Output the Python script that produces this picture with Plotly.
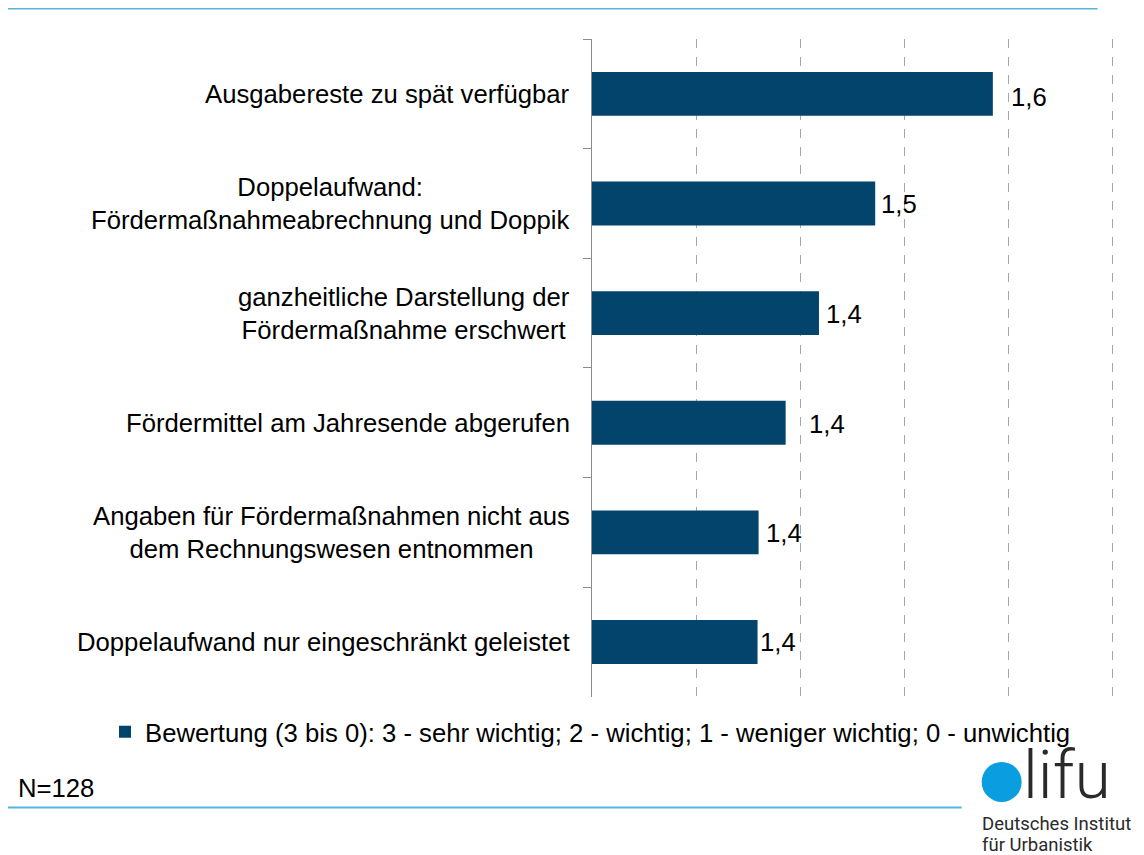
import plotly.graph_objects as go

# ---------------- data ----------------
categories = [
    "Ausgabereste zu spät verfügbar",
    "Doppelaufwand:<br>Fördermaßnahmeabrechnung und Doppik",
    "ganzheitliche Darstellung der<br>Fördermaßnahme erschwert",
    "Fördermittel am Jahresende abgerufen",
    "Angaben für Fördermaßnahmen nicht aus<br>dem Rechnungswesen entnommen",
    "Doppelaufwand nur eingeschränkt geleistet",
]
values = [1.585, 1.472, 1.418, 1.386, 1.360, 1.359]
series_name = "Bewertung (3 bis 0): 3 - sehr wichtig; 2 - wichtig; 1 - weniger wichtig; 0 - unwichtig"
sample_note = "N=128"
logo_word = "lifu"
logo_lines = ["Deutsches Institut", "für Urbanistik"]

# ---------------- style ----------------
OFF = 8  # page body margin of the generated html
W, H = 1144 - OFF, 855 - OFF
X_MIN, X_MAX = 1.2, 1.71
PX_PER_UNIT = (1113 - 592) / 0.5
L, T, B = 592 - OFF, 39 - OFF, 697.7 - OFF
R = L + (X_MAX - X_MIN) * PX_PER_UNIT
BAR = "#02446C"
LINE_BLUE = "#56B4DE"
CIRCLE = "#0A9EE0"
FONT = "Liberation Sans, Arial, sans-serif"
FS = 25.7
label_xshift = [16, 4, 5, 21, 5, 0]
label_yshift = [-3, -1, -1, -1, -1, 0]


def px_x(px):
    """reference page pixel -> paper x"""
    return (px - OFF - L) / (R - L)


def px_y(py):
    """reference page pixel -> paper y"""
    return (B - (py - OFF)) / (B - T)


fig = go.Figure()
fig.add_trace(go.Bar(
    x=values, y=categories, orientation="h",
    marker=dict(color=BAR, line=dict(width=0)),
    name=series_name, showlegend=True, hoverinfo="skip",
))

annotations = []
for c, v, xs, ys in zip(categories, values, label_xshift, label_yshift):
    annotations.append(dict(
        x=0, xref="paper", y=c, yref="y", text=c, showarrow=False,
        xanchor="right", yanchor="middle", align="center", xshift=-20,
        font=dict(family=FONT, size=FS, color="#000000"),
    ))
    annotations.append(dict(
        x=v, xref="x", y=c, yref="y", text=f"{v:.1f}".replace(".", ","),
        showarrow=False, xanchor="left", yanchor="middle", xshift=xs, yshift=ys,
        font=dict(family=FONT, size=FS, color="#000000"),
    ))

annotations.append(dict(
    x=px_x(16), xref="paper", y=px_y(789), yref="paper", text=sample_note,
    showarrow=False, xanchor="left", yanchor="middle",
    font=dict(family=FONT, size=FS, color="#000000"),
))
annotations.append(dict(
    x=px_x(1021), xref="paper", y=px_y(777), yref="paper", text=logo_word,
    showarrow=False, xanchor="left", yanchor="middle",
    font=dict(family="Roboto, sans-serif", size=66, color="#2a2a2a", weight=300),
))
for i, t in enumerate(logo_lines):
    annotations.append(dict(
        x=px_x(980), xref="paper", y=px_y(825 + 21 * i), yref="paper", text=t,
        showarrow=False, xanchor="left", yanchor="middle",
        font=dict(family="Roboto, sans-serif", size=18.5, color="#2a2a2a"),
    ))

shapes = [
    dict(type="line", xref="paper", yref="paper", x0=px_x(0), x1=px_x(1098),
         y0=px_y(8.5), y1=px_y(8.5), line=dict(color=LINE_BLUE, width=2)),
    dict(type="line", xref="paper", yref="paper", x0=px_x(7), x1=px_x(962),
         y0=px_y(808.5), y1=px_y(808.5), line=dict(color=LINE_BLUE, width=2)),
    dict(type="circle", xref="paper", yref="paper", x0=px_x(982), x1=px_x(1022),
         y0=px_y(803), y1=px_y(763), fillcolor=CIRCLE, line=dict(width=0)),
]

fig.update_layout(
    width=W, height=H, autosize=False,
    margin=dict(l=L, r=W - R, t=T, b=H - B, pad=0),
    paper_bgcolor="white", plot_bgcolor="white",
    bargap=0.6,
    font=dict(family=FONT, size=FS, color="#000000"),
    xaxis=dict(
        range=[X_MIN, X_MAX], tick0=1.2, dtick=0.1, showticklabels=False,
        showgrid=True, gridcolor="#a6a6a6", griddash="dash", gridwidth=1,
        zeroline=False, showline=False, ticks="", fixedrange=True,
    ),
    yaxis=dict(
        type="category", autorange="reversed", showticklabels=False,
        ticks="outside", tickson="boundaries", ticklen=8, tickcolor="#8c8c8c",
        showline=True, linecolor="#8c8c8c", linewidth=1, showgrid=False,
        zeroline=False, fixedrange=True,
    ),
    legend=dict(
        orientation="h", xref="container", yref="container",
        x=(105 - OFF) / W, xanchor="left", y=1 - (732 - OFF) / H, yanchor="middle",
        font=dict(family=FONT, size=FS, color="#000000"),
        bgcolor="rgba(0,0,0,0)", borderwidth=0,
    ),
    annotations=annotations,
    shapes=shapes,
)

fig.write_html("out.html")
